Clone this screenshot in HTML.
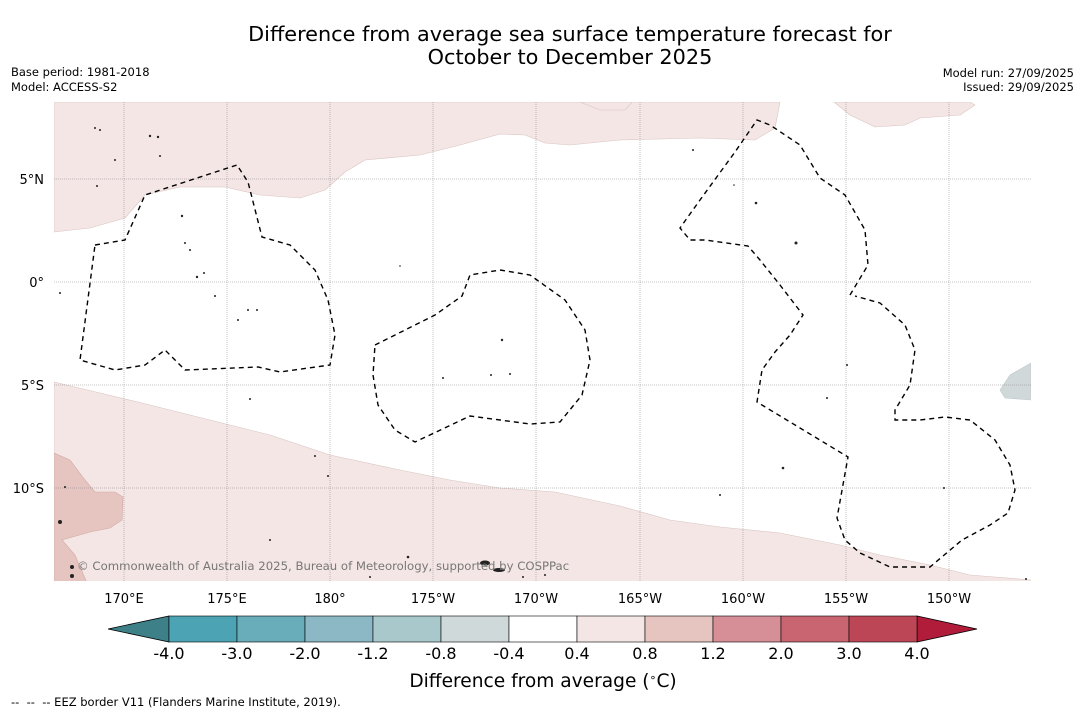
<!DOCTYPE html>
<html><head><meta charset="utf-8"><style>
body{margin:0;background:#fff;}
svg text{font-family:"DejaVu Sans","Liberation Sans",sans-serif;}
</style></head><body>
<svg width="1085" height="713" viewBox="0 0 1085 713" xmlns="http://www.w3.org/2000/svg">
<text x="570" y="41" font-size="20.8" text-anchor="middle">Difference from average sea surface temperature forecast for</text>
<text x="570" y="64" font-size="20.8" text-anchor="middle">October to December 2025</text>
<text x="11" y="76" font-size="11.5">Base period: 1981-2018</text>
<text x="11" y="91" font-size="11.5">Model: ACCESS-S2</text>
<text x="1074" y="77" font-size="11.5" text-anchor="end">Model run: 27/09/2025</text>
<text x="1074" y="91" font-size="11.5" text-anchor="end">Issued: 29/09/2025</text>

<g>
<clipPath id="mc"><rect x="54" y="102" width="977" height="479"/></clipPath>
<g clip-path="url(#mc)">
<rect x="54" y="102" width="977" height="479" fill="#fff"/>
<path fill="#f4e6e4" stroke="#d8c4c2" stroke-width="0.6" d="M54,102 L54,232 L90,228 L125,218 L145,195 L180,187 L225,187 L260,195 L300,198 L325,190 L345,172 L365,160 L420,155 L460,145 L500,134 L525,135 L545,143 L570,145 L620,140 L700,138 L755,140 L775,128 L780,102 Z"/>
<path fill="#f4e6e4" stroke="#d8c4c2" stroke-width="0.6" d="M580,102 L600,110 L625,110 L632,102 Z"/>
<path fill="#f4e6e4" stroke="#d8c4c2" stroke-width="0.6" d="M834,102 L850,115 L875,127 L905,125 L920,118 L960,115 L975,105 L970,102 Z"/>
<path fill="#f4e6e4" stroke="#d8c4c2" stroke-width="0.6" d="M54,382 L100,393 L150,405 L210,420 L270,435 L330,455 L400,470 L450,480 L500,488 L555,492 L620,506 L670,520 L720,527 L780,533 L840,545 L880,555 L930,565 L970,575 L1031,580 L1031,590 L54,590 Z"/>
<path fill="#e6c4c0" stroke="#d0aaa6" stroke-width="0.6" d="M54,453 L70,460 L85,480 L95,492 L115,492 L123,497 L122,520 L110,528 L90,532 L62,540 L75,555 L90,590 L54,590 Z"/>
<path fill="#d0d8d9" stroke="#bfc8c9" stroke-width="0.6" d="M1031,363 L1010,375 L1000,390 L1005,398 L1031,400 Z"/>
<g stroke="#888" stroke-width="0.5" stroke-dasharray="1,1">
<line x1="124" y1="102" x2="124" y2="581"/><line x1="227" y1="102" x2="227" y2="581"/><line x1="330" y1="102" x2="330" y2="581"/><line x1="433" y1="102" x2="433" y2="581"/><line x1="536" y1="102" x2="536" y2="581"/><line x1="640" y1="102" x2="640" y2="581"/><line x1="743" y1="102" x2="743" y2="581"/><line x1="846" y1="102" x2="846" y2="581"/><line x1="949" y1="102" x2="949" y2="581"/>
<line x1="54" y1="179" x2="1031" y2="179"/><line x1="54" y1="282" x2="1031" y2="282"/><line x1="54" y1="385" x2="1031" y2="385"/><line x1="54" y1="488" x2="1031" y2="488"/>
</g>
<g fill="none" stroke="#000" stroke-width="1.4" stroke-dasharray="5,4">
<path d="M95,245 L125,240 L145,195 L237,165 L248,182 L262,237 L290,245 L315,270 L328,300 L335,335 L330,365 L280,372 L258,367 L185,370 L165,350 L145,365 L115,370 L80,360 Z"/>
<path d="M375,345 L385,340 L435,315 L462,296 L470,275 L500,270 L530,275 L565,300 L585,330 L590,360 L582,395 L560,422 L530,424 L470,416 L415,442 L395,430 L378,405 L373,375 Z"/>
<path d="M850,295 L868,265 L865,230 L845,195 L820,178 L800,145 L770,125 L757,120 L735,152 L700,200 L680,228 L690,240 L705,240 L748,246 L760,260 L780,285 L803,315 L790,335 L775,352 L762,370 L757,402 L848,457 L837,518 L845,540 L860,553 L890,567 L930,567 L962,540 L990,525 L1008,513 L1015,490 L1010,465 L995,440 L970,420 L945,417 L920,420 L895,420 L895,410 L910,385 L915,350 L905,325 L880,303 L855,296"/>
</g>
<g fill="#222">
<circle cx="95" cy="128" r="1"/><circle cx="100" cy="130" r="1"/><circle cx="150" cy="136" r="1.2"/><circle cx="158" cy="137" r="1.2"/><circle cx="160" cy="156" r="1"/><circle cx="115" cy="160" r="1"/><circle cx="97" cy="186" r="1"/><circle cx="182" cy="216" r="1.2"/><circle cx="185" cy="243" r="1"/><circle cx="190" cy="250" r="1"/><circle cx="197" cy="277" r="1.2"/><circle cx="204" cy="273" r="1"/><circle cx="215" cy="296" r="1"/><circle cx="248" cy="310" r="1"/><circle cx="257" cy="310" r="1"/><circle cx="238" cy="320" r="1"/><circle cx="60" cy="293" r="1"/><circle cx="502" cy="340" r="1.2"/><circle cx="491" cy="375" r="1"/><circle cx="443" cy="378" r="1"/><circle cx="510" cy="374" r="1"/><circle cx="756" cy="203" r="1.3"/><circle cx="796" cy="243" r="1.5"/><circle cx="783" cy="468" r="1.3"/><circle cx="720" cy="495" r="1"/><circle cx="847" cy="365" r="1"/><circle cx="827" cy="398" r="1"/><circle cx="250" cy="399" r="1"/><circle cx="315" cy="456" r="1"/><circle cx="328" cy="476" r="1"/><circle cx="60" cy="522" r="2"/><circle cx="72" cy="567" r="2"/><circle cx="72" cy="576" r="2"/><circle cx="65" cy="487" r="1"/><circle cx="270" cy="540" r="1"/><circle cx="408" cy="557" r="1.3"/><ellipse cx="485" cy="563" rx="5" ry="2.5"/><ellipse cx="499" cy="570" rx="6" ry="2"/><circle cx="370" cy="577" r="1"/><circle cx="523" cy="577" r="1"/><circle cx="545" cy="575" r="1"/><circle cx="1026" cy="579" r="1"/><circle cx="944" cy="488" r="1"/><circle cx="693" cy="150" r="1"/><circle cx="734" cy="185" r="0.8"/><circle cx="400" cy="266" r="0.8"/>
</g>
<text x="77" y="570" font-size="11.7" fill="#777">© Commonwealth of Australia 2025, Bureau of Meteorology, supported by COSPPac</text>
</g>
</g>

<g font-size="13" text-anchor="middle">
<text x="124" y="603">170°E</text><text x="227" y="603">175°E</text><text x="330" y="603">180°</text><text x="433" y="603">175°W</text><text x="536" y="603">170°W</text><text x="640" y="603">165°W</text><text x="743" y="603">160°W</text><text x="846" y="603">155°W</text><text x="949" y="603">150°W</text>
</g>
<g font-size="13" text-anchor="end">
<text x="44" y="184">5°N</text><text x="44" y="287">0°</text><text x="44" y="390">5°S</text><text x="44" y="493">10°S</text>
</g>

<g id="cbar"></g>
<text x="543" y="687" font-size="18.6" text-anchor="middle">Difference from average (<tspan baseline-shift="super" font-size="11">∘</tspan>C)</text>
<text x="11" y="706" font-size="11.5" xml:space="preserve">--  --  -- EEZ border V11 (Flanders Marine Institute, 2019).</text>

<script>
const boundaries = ["-4.0","-3.0","-2.0","-1.2","-0.8","-0.4","0.4","0.8","1.2","2.0","3.0","4.0"];
const binColors = ["#4ba3b3","#69acba","#8bb8c4","#a9c8cc","#d0d9da","#ffffff","#f4e6e4","#e6c5c0","#d78f97","#c96570","#bd4656"];
const underColor = "#3d8088";
const overColor = "#b01c3a";
const NS = "http://www.w3.org/2000/svg";
const g = document.getElementById('cbar');
const x0 = 169, w = 68, y0 = 616, h = 26;
function bx(i){ return x0 + i * w; }
function mk(tag, attrs){ const e = document.createElementNS(NS, tag); for (const k in attrs) e.setAttribute(k, attrs[k]); g.appendChild(e); return e; }
const n = binColors.length;
const left = mk('polygon', {points: `${bx(0)},${y0} ${bx(0)},${y0+h} 108,${y0+h/2}`, fill: underColor, stroke: '#000', 'stroke-width': 0.8});


const right = mk('polygon', {points: `${bx(n)},${y0} ${bx(n)},${y0+h} 977,${y0+h/2}`, fill: overColor, stroke: '#000', 'stroke-width': 0.8});


binColors.forEach((c, i) => {
  const r = mk('rect', {x: bx(i), y: y0, width: w, height: h, fill: c, stroke: '#000', 'stroke-width': 0.6});
  
  
});
boundaries.forEach((b, i) => {
  const t = mk('text', {x: bx(i), y: 659, 'font-size': 16, 'text-anchor': 'middle'});
  t.textContent = b;
  
  
});
</script>
</svg>
</body></html>
